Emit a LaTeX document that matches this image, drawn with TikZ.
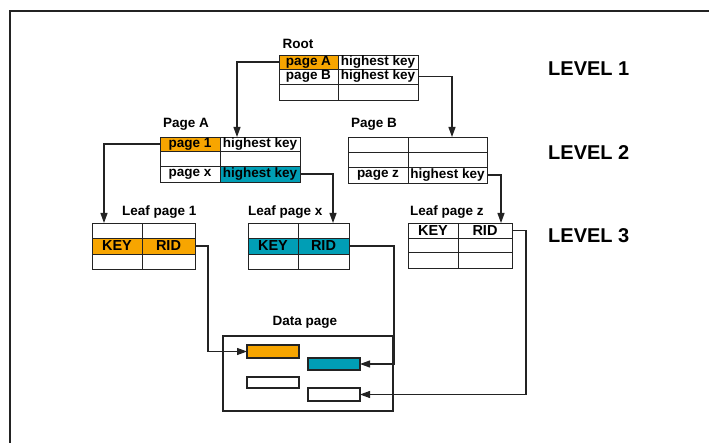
\documentclass[tikz,border=0pt]{standalone}
\usepackage{fontspec}
\setmainfont{Liberation Sans}
\usetikzlibrary{arrows.meta}
\definecolor{idxorange}{RGB}{247,165,0}
\definecolor{idxteal}{RGB}{0,158,181}
\definecolor{ink}{RGB}{35,35,35}

\begin{document}
\begin{tikzpicture}[x=1pt,y=-1pt,
  cell/.style={draw=ink, line width=0.9pt, rectangle, inner sep=0pt, outer sep=0pt,
    anchor=north west, font=\fontsize{13.5}{14}\selectfont\bfseries},
  keycell/.style={cell, font=\fontsize{14.5}{15}\selectfont\bfseries},
  rec/.style={draw=ink, line width=1.1pt, rectangle, inner sep=0pt, outer sep=0pt, anchor=north west},
  title/.style={inner sep=0pt, font=\fontsize{13.5}{14}\selectfont\bfseries},
  level/.style={inner sep=0pt, anchor=west, font=\fontsize{20}{22}\selectfont\bfseries},
  conn/.style={draw=ink, line width=1.1pt},
  arr/.style={conn, -{Triangle[length=10pt,width=7pt]}}]

\useasboundingbox (0,0) rectangle (709,443);
\fill[white] (0,0) rectangle (709,443);

% outer frame (open to the right and bottom)
\draw[draw=ink, line width=2pt] (10,460) |- (730,11);

% ---------- LEVEL 1: root page ----------
\node[title] (rootlbl) at (298,44) {Root};
\node[cell, fill=idxorange, minimum width=59pt, minimum height=14pt] (r11) at (279,55) {page A};
\node[cell, minimum width=80pt, minimum height=14pt] (r12) at (338,55) {highest key};
\node[cell, minimum width=59pt, minimum height=15pt] (r21) at (279,69) {page B};
\node[cell, minimum width=80pt, minimum height=15pt] (r22) at (338,69) {highest key};
\node[cell, minimum width=59pt, minimum height=16pt] (r31) at (279,84) {};
\node[cell, minimum width=80pt, minimum height=16pt] (r32) at (338,84) {};

% ---------- LEVEL 2: page A ----------
\node[title, anchor=west] (palbl) at (163,124) {Page A};
\node[cell, fill=idxorange, minimum width=60pt, minimum height=14pt] (a11) at (160,137) {page 1};
\node[cell, minimum width=80pt, minimum height=14pt] (a12) at (220,137) {highest key};
\node[cell, minimum width=60pt, minimum height=15pt] (a21) at (160,151) {};
\node[cell, minimum width=80pt, minimum height=15pt] (a22) at (220,151) {};
\node[cell, minimum width=60pt, minimum height=16pt] (a31) at (160,166) {page x};
\node[cell, fill=idxteal, minimum width=80pt, minimum height=16pt] (a32) at (220,166) {highest key};

% ---------- LEVEL 2: page B ----------
\node[title, anchor=west] (pblbl) at (351,124) {Page B};
\node[cell, minimum width=60pt, minimum height=15pt] (b11) at (348,137) {};
\node[cell, minimum width=79pt, minimum height=15pt] (b12) at (408,137) {};
\node[cell, minimum width=60pt, minimum height=15pt] (b21) at (348,152) {};
\node[cell, minimum width=79pt, minimum height=15pt] (b22) at (408,152) {};
\node[cell, minimum width=60pt, minimum height=16pt] (b31) at (348,167) {page z};
\node[cell, minimum width=79pt, minimum height=16pt] (b32) at (408,167) {highest key};

% ---------- LEVEL 3: leaf page 1 ----------
\node[title, anchor=west] (l1lbl) at (122,212) {Leaf page 1};
\node[cell, minimum width=50pt, minimum height=15pt] (p11) at (92,223) {};
\node[cell, minimum width=53pt, minimum height=15pt] (p12) at (142,223) {};
\node[keycell, fill=idxorange, minimum width=50pt, minimum height=16pt] (p21) at (92,238) {KEY};
\node[keycell, fill=idxorange, minimum width=53pt, minimum height=16pt] (p22) at (142,238) {RID};
\node[cell, minimum width=50pt, minimum height=15pt] (p31) at (92,254) {};
\node[cell, minimum width=53pt, minimum height=15pt] (p32) at (142,254) {};

% ---------- LEVEL 3: leaf page x ----------
\node[title, anchor=west] (lxlbl) at (248,212) {Leaf page x};
\node[cell, minimum width=50pt, minimum height=15pt] (x11) at (248,223) {};
\node[cell, minimum width=51pt, minimum height=15pt] (x12) at (298,223) {};
\node[keycell, fill=idxteal, minimum width=50pt, minimum height=16pt] (x21) at (248,238) {KEY};
\node[keycell, fill=idxteal, minimum width=51pt, minimum height=16pt] (x22) at (298,238) {RID};
\node[cell, minimum width=50pt, minimum height=15pt] (x31) at (248,254) {};
\node[cell, minimum width=51pt, minimum height=15pt] (x32) at (298,254) {};

% ---------- LEVEL 3: leaf page z ----------
\node[title, anchor=west] (lzlbl) at (410,212) {Leaf page z};
\node[keycell, minimum width=50pt, minimum height=15pt] (z11) at (408,223) {KEY};
\node[keycell, minimum width=54pt, minimum height=15pt] (z12) at (458,223) {RID};
\node[cell, minimum width=50pt, minimum height=14pt] (z21) at (408,238) {};
\node[cell, minimum width=54pt, minimum height=14pt] (z22) at (458,238) {};
\node[cell, minimum width=50pt, minimum height=16pt] (z31) at (408,252) {};
\node[cell, minimum width=54pt, minimum height=16pt] (z32) at (458,252) {};

% ---------- data page ----------
\node[title] (dplbl) at (305,322) {Data page};
\node[rec, minimum width=170pt, minimum height=75pt] (dp) at (223,336) {};
\node[rec, fill=idxorange, minimum width=52pt, minimum height=13pt] (row1) at (247,345) {};
\node[rec, fill=idxteal, minimum width=52pt, minimum height=12pt] (row2) at (308,358) {};
\node[rec, minimum width=52pt, minimum height=11pt] (row3) at (247,377) {};
\node[rec, minimum width=52pt, minimum height=13pt] (row4) at (308,388) {};

% level captions
\node[level] (lev1) at (548,69) {LEVEL 1};
\node[level] (lev2) at (548,152.5) {LEVEL 2};
\node[level] (lev3) at (548,236) {LEVEL 3};

% ---------- pointers ----------
\coordinate (inA) at (237,137);
\coordinate (inB) at (452,137);
\coordinate (in1) at (104,223);
\coordinate (inx) at (333,223);
\coordinate (inz) at (501,223);
\coordinate (bend1) at (208,0);
\coordinate (bendx) at (394,0);
\coordinate (bendz) at (526,0);

\draw[arr] (r11.west) -| (inA);
\draw[arr] (r22.east) -| (inB);
\draw[arr] (a11.west) -| (in1);
\draw[arr] (a32.east) -| (inx);
\draw[arr] (b32.east) -| (inz);

\draw[arr] (p22.east) -- (p22.east -| bend1) |- (row1.west);
\draw[arr] (x22.east) -- (x22.east -| bendx) |- (row2.east);
\draw[arr] (z12.east) -- (z12.east -| bendz) |- (row4.east);

\end{tikzpicture}
\end{document}
